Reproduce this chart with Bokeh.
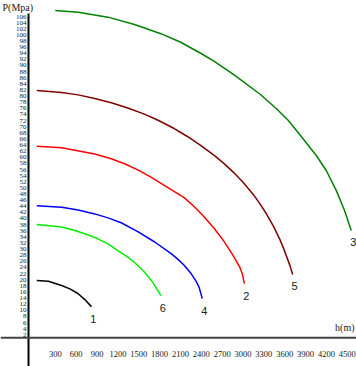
from bokeh.plotting import figure
from bokeh.models import Range1d, Span
from bokeh.core.properties import value
from bokeh.embed import file_html
from bokeh.resources import INLINE

# ---- data (h in m, P in MPa) ----
names = ["1", "6", "4", "2", "5", "3"]
colors = ["#000000", "#00ee00", "#0000ff", "#ff0000", "#800000", "#008000"]

h1 = [33, 200, 390, 510, 629, 724, 819]
p1 = [19.7, 19.5, 18.1, 17.0, 15.4, 13.5, 11.2]

h6 = [33, 390, 581, 724, 890, 1057, 1200, 1343, 1461, 1581, 1700, 1819]
p6 = [38.0, 37.2, 36.1, 35.0, 33.6, 31.7, 29.5, 27.4, 25.2, 22.5, 19.2, 14.8]

h4 = [33, 390, 629, 867, 1057, 1247, 1486, 1724, 1961, 2057, 2153, 2247, 2330, 2367, 2414]
p4 = [44.2, 43.7, 42.8, 41.5, 40.2, 38.6, 35.7, 32.4, 28.6, 26.8, 24.7, 22.2, 19.3, 17.6, 13.8]

h2 = [33, 390, 867, 1104, 1296, 1486, 1676, 1914, 2153, 2296, 2439, 2581, 2724, 2850, 2950, 2995, 3019]
p2 = [63.6, 63.1, 61.1, 59.5, 57.9, 55.9, 53.5, 50.2, 46.8, 43.9, 40.6, 36.9, 32.6, 28.2, 24.3, 21.6, 18.7]

h5 = [33, 390, 629, 867, 1104, 1343, 1581, 1771, 2010, 2200, 2390, 2581, 2724, 2867, 3010,
      3153, 3247, 3343, 3439, 3533, 3581, 3676, 3714]
p5 = [81.8, 81.2, 80.4, 79.2, 77.8, 76.1, 74.1, 72.2, 69.4, 66.8, 63.9, 60.7, 58.0, 55.0, 51.6,
      47.7, 44.7, 41.3, 37.4, 33.0, 30.4, 24.6, 21.7]

h3 = [300, 629, 1057, 1439, 1819, 2104, 2390, 2581, 2867, 3247, 3486, 3653, 3867, 4057, 4200,
      4343, 4461, 4557]
p3 = [108.0, 107.4, 105.8, 103.4, 100.4, 97.6, 94.0, 91.4, 87.0, 80.6, 75.8, 72.0, 66.0, 60.5, 55.6,
      49.1, 42.6, 36.1]

hs = [h1, h6, h4, h2, h5, h3]
ps = [p1, p6, p4, p2, p5, p3]

y_ticks = list(range(2, 107, 2))
x_ticks = list(range(300, 4501, 300))

Y_AXIS_H = -86
X_AXIS_P = 1.0

p = figure(width=356, height=366,
           x_range=Range1d(-489, 4633), y_range=Range1d(-8.37, 111.24),
           output_backend="svg", toolbar_location=None,
           x_axis_type=None, y_axis_type=None,
           min_border=0, outline_line_color=None,
           background_fill_color="white", border_fill_color="white")

# axes
p.add_layout(Span(location=X_AXIS_P, dimension="width", line_color="#444444", line_width=2))
p.segment(x0=[Y_AXIS_H], y0=[-8.37], x1=[Y_AXIS_H], y1=[107.0], line_color="#000000", line_width=2)

# tick labels
p.text(x=[Y_AXIS_H - 29] * len(y_ticks), y=y_ticks, text=[str(t) for t in y_ticks],
       text_font=value("Liberation Sans Narrow"), text_font_size="7px",
       text_align="right", text_baseline="middle", text_color="#202020")
p.text(x=x_ticks, y=[-4.44] * len(x_ticks), text=[str(t) for t in x_ticks],
       text_font=value("Liberation Sans Narrow"), text_font_size="8.5px",
       text_align="center", text_baseline="middle", text_color="#202020")

# curves
for h, pr, c in zip(hs, ps, colors):
    p.line(h, pr, line_color=c, line_width=1.5, line_join="round")

# curve labels at curve ends
p.text(x=[h[-1] for h in hs], y=[pr[-1] for pr in ps], text=names,
       x_offset=2, y_offset=12,
       text_font=value("Liberation Sans"), text_font_size="11px",
       text_align="center", text_baseline="middle", text_color="#202020")

# axis titles
p.text(x=[-460], y=[109.0], text=["P(Mpa)"], text_font=value("Liberation Serif"),
       text_font_size="10px", text_align="left", text_baseline="middle", text_color="#202020")
p.text(x=[4604], y=[4.4], text=["h(m)"], text_font=value("Liberation Serif"),
       text_font_size="10px", text_align="right", text_baseline="middle", text_color="#202020")

open("out.html", "w").write(file_html(p, INLINE))
